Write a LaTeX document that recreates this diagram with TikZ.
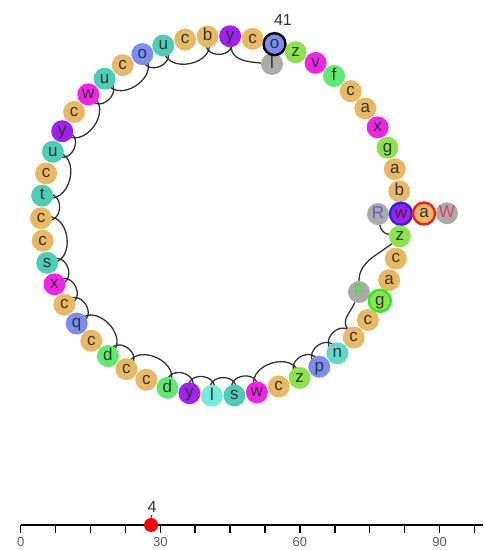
\documentclass[tikz,border=0pt]{standalone}
\usepackage{fontspec}
\setmainfont{Liberation Sans}
\usetikzlibrary{calc}
\pgfdeclarelayer{bg}
\pgfsetlayers{bg,main}
\definecolor{ktan}{HTML}{E8B964}
\definecolor{kblue}{HTML}{7C8DF2}
\definecolor{kteal}{HTML}{4ECDB6}
\definecolor{kpurple}{HTML}{A020F0}
\definecolor{kmag}{HTML}{F024E4}
\definecolor{klgreen}{HTML}{8EE24C}
\definecolor{kgreen}{HTML}{5EEA70}
\definecolor{kaqua}{HTML}{74EBDC}
\definecolor{kn}{HTML}{5ED8CC}
\definecolor{kgray}{HTML}{AAAAAA}
\definecolor{ktxt}{HTML}{333333}
\definecolor{kRtxt}{HTML}{6A5AD6}
\definecolor{kWtxt}{HTML}{E0405E}
\definecolor{kFtxt}{HTML}{3AE83A}
\definecolor{kring}{HTML}{2424EE}
\definecolor{kred}{HTML}{EE2020}
\definecolor{kgring}{HTML}{22EE22}
\tikzset{
  nt/.style={circle, minimum size=22pt, inner sep=0pt, text=ktxt,
    font=\fontsize{17}{17}\selectfont, text height=8.6pt, text depth=0pt},
  plain/.style={},
  ringk/.style={draw=black, line width=2.4pt},
  ringb/.style={draw=kring, line width=2.4pt},
  ringr/.style={draw=kred, line width=2.4pt},
  ringg/.style={draw=kgring, line width=2.4pt},
  grayn/.style={nt, fill=kgray},
  arcl/.style={draw=ktxt, line width=1.3pt},
  axisl/.style={draw=black, line width=1.5pt},
  lab/.style={text=ktxt, font=\fontsize{16}{16}\selectfont, inner sep=0pt},
  axlab/.style={text=ktxt!80, font=\fontsize{13}{13}\selectfont, inner sep=0pt}
}
\begin{document}
\begin{tikzpicture}[x=1pt, y=1pt]
\useasboundingbox (0,0) rectangle (483,550);
\coordinate (O) at (221,334);
% gray nodes first (drawn beneath the ringed nodes)
\node[grayn] (gl) at (272,486) {l};
\node[grayn, text=kFtxt] (F) at (359,258) {F};
\node[grayn, text=kRtxt] (R) at ($(O)+(0.7:157)$) {R};
% circle of nucleotides
\foreach \nidx/\nlet/\ncol/\nsty in {
  1/o/kblue/ringk, 2/z/klgreen/plain, 3/v/kmag/plain, 4/f/kgreen/plain,
  5/c/ktan/plain, 6/a/ktan/plain, 7/x/kmag/plain, 8/g/klgreen/plain,
  9/a/ktan/plain, 10/b/ktan/plain, 11/w/kpurple/ringb, 12/z/klgreen/plain,
  13/c/ktan/plain, 14/a/ktan/plain, 15/g/klgreen/ringg, 16/c/ktan/plain,
  17/c/ktan/plain, 18/n/kn/plain, 19/p/kblue/plain, 20/z/klgreen/plain,
  21/c/ktan/plain, 22/w/kmag/plain, 23/s/kteal/plain, 24/l/kaqua/plain,
  25/y/kpurple/plain, 26/d/kgreen/plain, 27/c/ktan/plain, 28/c/ktan/plain,
  29/d/kgreen/plain, 30/c/ktan/plain, 31/q/kblue/plain, 32/c/ktan/plain,
  33/x/kmag/plain, 34/s/kteal/plain, 35/c/ktan/plain, 36/c/ktan/plain,
  37/t/kteal/plain, 38/c/ktan/plain, 39/u/kteal/plain, 40/y/kpurple/plain,
  41/c/ktan/plain, 42/w/kmag/plain, 43/u/kteal/plain, 44/c/ktan/plain,
  45/o/kblue/plain, 46/u/kteal/plain, 47/c/ktan/plain, 48/b/ktan/plain,
  49/y/kpurple/plain, 50/c/ktan/plain} {
  \pgfmathsetmacro\nang{72.7-7.2*(\nidx-1)}
  \node[nt, fill=\ncol, \nsty] (n\nidx) at ($(O)+(\nang:180)$) {\nlet};
}
% branch beyond w
\node[nt, fill=ktan, ringr] (ba) at ($(O)+(0.7:203)$) {a};
\node[grayn, text=kWtxt] (W) at ($(O)+(0.7:226)$) {W};
% label of position 41
\node[lab] (lab41) at (283,530) {41};
% arcs
\begin{pgfonlayer}{bg}
\foreach \ea/\eb/\el/\es in {49/48/3.0/25, 48/46/1.8/15, 46/45/3.0/25, 45/43/1.8/15,
  43/42/3.0/25, 42/40/1.8/15, 40/39/3.0/25, 39/37/1.8/15, 37/36/3.0/25,
  36/34/1.8/15, 34/33/3.0/25, 33/32/3.0/25, 32/31/3.0/25, 31/29/1.8/15,
  29/28/3.0/25, 28/26/1.8/15, 26/25/3.0/25, 25/24/3.0/25, 24/23/3.0/25,
  23/22/3.0/25, 22/20/1.8/15, 20/19/3.0/25, 19/18/3.0/25, 18/17/3.0/25} {
  \pgfmathsetmacro\edir{72.7-7.2*((\ea+\eb)/2-1)+180}
  \pgfmathsetmacro\eout{\edir+\es}
  \pgfmathsetmacro\ein{\edir-\es}
  \draw[arcl] (n\ea.center) to[out=\eout, in=\ein, looseness=\el] (n\eb.center);
}
\draw[arcl] (n49) to[out=-85, in=175] (gl);
\draw[arcl] (n17) to[out=125, in=-112] (F);
\draw[arcl] (F) to[out=90, in=228, looseness=0.95] (n12.center);
\draw[arcl] (R) to[out=-80, in=170] (n12);
\end{pgfonlayer}
% axis
\coordinate (ax0) at (20.7,25);
\coordinate (ax1) at (483,25);
\draw[axisl] (ax0) -- (ax1);
\foreach \k in {0,...,13} {
  \draw[axisl] ($(ax0)+(34.9*\k,0)$) -- ++(0,-8);
}
\node[axlab] (t0) at ($(ax0)+(0,-17)$) {0};
\node[axlab] (t30) at ($(ax0)+(4*34.9,-17)$) {30};
\node[axlab] (t60) at ($(ax0)+(8*34.9,-17)$) {60};
\node[axlab] (t90) at ($(ax0)+(12*34.9,-17)$) {90};
\node[circle, fill=red, minimum size=14pt, inner sep=0pt] (dot) at (151,25) {};
\node[lab] (dotlab) at (152,43) {4};
\draw[line width=1pt, draw=ktxt] (dotlab.south) ++(0,-2) coordinate (tk) -- (dot.north);
\end{tikzpicture}
\end{document}
